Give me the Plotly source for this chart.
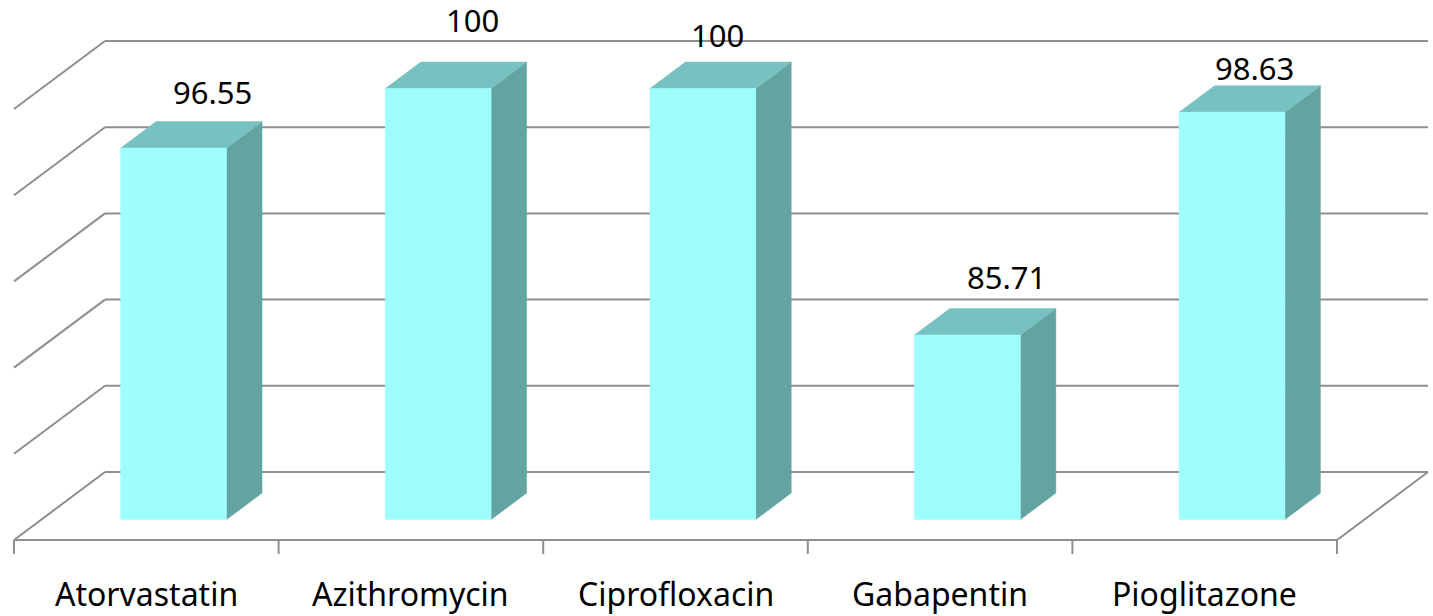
import plotly.graph_objects as go

# ---- data ----
categories = ["Atorvastatin", "Azithromycin", "Ciprofloxacin", "Gabapentin", "Pioglitazone"]
values = [96.55, 100, 100, 85.71, 98.63]
value_labels = ["96.55", "100", "100", "85.71", "98.63"]
grid_values = [75, 80, 85, 90, 95, 100]

# ---- style / projection constants ----
W, H = 1433, 616
X_PX0, X_PX1 = 14, 1337          # pixel of front floor left / right
Y_PX_BASE = 540                  # pixel of front floor (value 75)
PX_PER_VAL = 17.24
VMIN = grid_values[0]
n = len(categories)
px_per_cat = (X_PX1 - X_PX0) / n
DX = 91 / px_per_cat             # depth offset in category units
DY = 68 / PX_PER_VAL             # depth offset in value units
Z0, Z1 = 0.30, 0.69              # bar depth (front, back)
BAR_W = 0.40
TICK_LEN = 14 / PX_PER_VAL

FRONT = "#9EFEFE"
TOP = "#77C1C1"
SIDE = "#63A4A3"
GRID = "#8E8E8E"
FONT = "Noto Sans"

x_range = [-X_PX0 / px_per_cat, (W - X_PX0) / px_per_cat]
y_range = [VMIN - (H - Y_PX_BASE) / PX_PER_VAL, VMIN + Y_PX_BASE / PX_PER_VAL]

# per-label nudges in pixels (layout only)
LABEL_XSHIFT = [3, -1, -21, 4, -13]
LABEL_YSHIFT = [30, 42, 27, 31, 18]

fig = go.Figure()

def P(x, v, z):
    return x + z * DX, v + z * DY

# ---- walls / gridlines ----
gx, gy = [], []
for v in grid_values:
    a = P(0, v, 1); b = P(n, v, 1)
    gx += [a[0], b[0], None]; gy += [a[1], b[1], None]
    c = P(0, v, 0)
    gx += [c[0], a[0], None]; gy += [c[1], a[1], None]
f0 = P(0, VMIN, 0); f1 = P(n, VMIN, 0); f2 = P(n, VMIN, 1)
gx += [f0[0], f1[0], f2[0], None]; gy += [f0[1], f1[1], f2[1], None]
for i in range(n + 1):
    gx += [i, i, None]; gy += [VMIN, VMIN - TICK_LEN, None]
fig.add_trace(go.Scatter(x=gx, y=gy, mode="lines", line=dict(color=GRID, width=2),
                         hoverinfo="skip", showlegend=False))

# ---- 3D bars ----
fx, fy, sx, sy, tx, ty = [], [], [], [], [], []
for i, v in enumerate(values):
    c = i + 0.5
    xl, xr = c - BAR_W / 2, c + BAR_W / 2
    pts = [P(xl, VMIN, Z0), P(xr, VMIN, Z0), P(xr, v, Z0), P(xl, v, Z0), P(xl, VMIN, Z0)]
    fx += [p[0] for p in pts] + [None]; fy += [p[1] for p in pts] + [None]
    pts = [P(xr, VMIN, Z0), P(xr, VMIN, Z1), P(xr, v, Z1), P(xr, v, Z0), P(xr, VMIN, Z0)]
    sx += [p[0] for p in pts] + [None]; sy += [p[1] for p in pts] + [None]
    pts = [P(xl, v, Z0), P(xr, v, Z0), P(xr, v, Z1), P(xl, v, Z1), P(xl, v, Z0)]
    tx += [p[0] for p in pts] + [None]; ty += [p[1] for p in pts] + [None]

for xs, ys, col in [(sx, sy, SIDE), (tx, ty, TOP), (fx, fy, FRONT)]:
    fig.add_trace(go.Scatter(x=xs, y=ys, mode="lines", fill="toself", fillcolor=col,
                             line=dict(color=col, width=0.5), hoverinfo="skip",
                             showlegend=False))

# ---- value labels ----
for i, (v, lab) in enumerate(zip(values, value_labels)):
    ax, ay = P(i + 0.5, v, Z1)
    fig.add_annotation(x=ax, y=ay, text=lab, showarrow=False,
                       xshift=LABEL_XSHIFT[i], yshift=LABEL_YSHIFT[i],
                       font=dict(family=FONT, size=31, color="black"),
                       xanchor="center", yanchor="middle")

# ---- category labels ----
for i, cat in enumerate(categories):
    fig.add_annotation(x=i + 0.5, y=VMIN, text=cat, showarrow=False, yshift=-53,
                       font=dict(family=FONT, size=32, color="black"),
                       xanchor="center", yanchor="middle")

fig.update_layout(
    width=W, height=H, margin=dict(l=0, r=0, t=0, b=0),
    paper_bgcolor="white", plot_bgcolor="white",
    xaxis=dict(range=x_range, visible=False, fixedrange=True),
    yaxis=dict(range=y_range, visible=False, fixedrange=True),
    showlegend=False,
)
fig.write_html("out.html", config={"displayModeBar": False})
